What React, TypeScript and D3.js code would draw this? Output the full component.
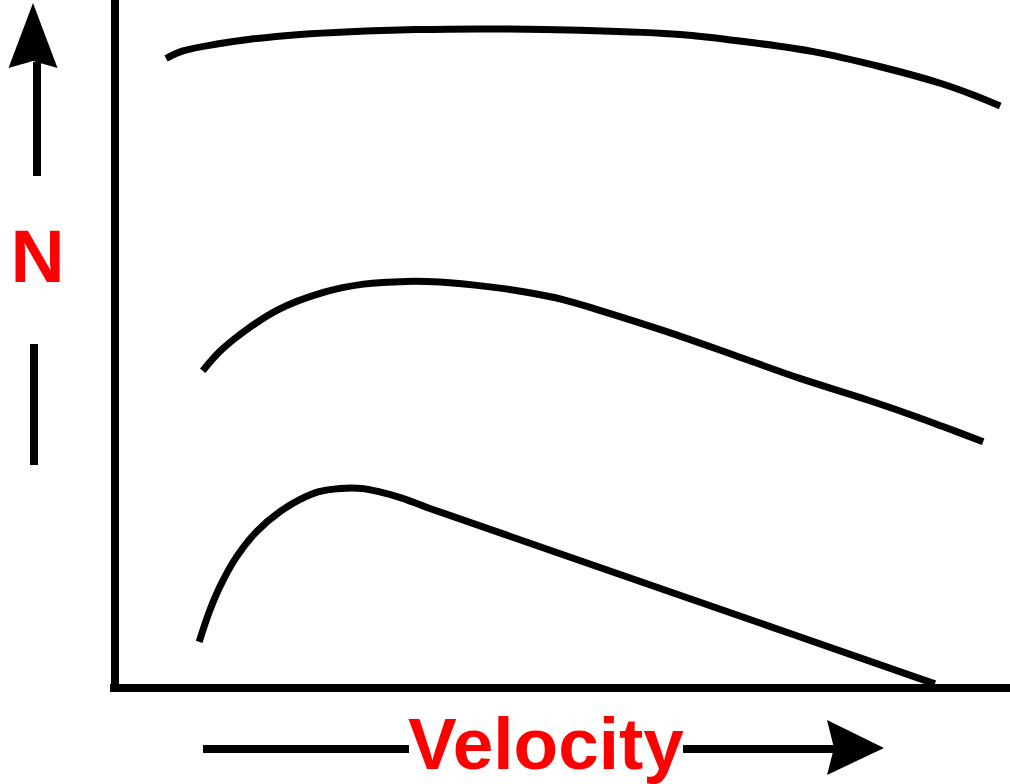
import React from "react";
import * as d3 from "d3";

const W = 1010;
const H = 784;

// Data (velocity on x, N on y), in arbitrary units 0..100
const topVelocity = [5.6, 7.5, 11.3, 15.0, 20.6, 26.2, 33.6, 41.1, 51.9, 63.1, 70.6, 78.0, 85.5, 92.2, 95.9, 98.9];
const topN = [91.5, 92.6, 93.6, 94.3, 95.0, 95.4, 95.7, 95.8, 95.6, 95.0, 93.9, 92.5, 90.3, 87.9, 86.2, 84.6];

const midVelocity = [9.7, 11.6, 14.1, 18.0, 23.2, 27.7, 32.5, 36.2, 41.8, 45.6, 49.9, 54.1, 61.6, 69.1, 76.5, 84.0, 89.6, 92.5, 97.0];
const midN = [46.1, 48.9, 51.6, 54.9, 57.5, 58.7, 59.1, 59.0, 58.3, 57.6, 56.5, 54.9, 51.8, 48.4, 45.0, 41.9, 39.4, 38.0, 35.8];

const lowVelocity = [9.3, 10.5, 11.8, 13.5, 15.7, 18.3, 20.6, 22.6, 25.1, 27.5, 29.5, 32.0, 35.1, 65.5, 91.6];
const lowN = [6.7, 11.3, 15.2, 19.1, 22.7, 25.6, 27.4, 28.5, 29.0, 29.0, 28.5, 27.6, 26.1, 12.4, 0.6];

const xLabel = "Velocity";
const yLabel = "N";

export default function App() {
  const x = d3.scaleLinear().domain([0, 100]).range([116, 1010]);
  const y = d3.scaleLinear().domain([0, 100]).range([688, 0]);

  const line = d3
    .line<[number, number]>()
    .x((d) => x(d[0]))
    .y((d) => y(d[1]))
    .curve(d3.curveCatmullRom.alpha(0.5));

  const series = [
    [topVelocity, topN],
    [midVelocity, midN],
    [lowVelocity, lowN],
  ].map(([vx, vy]) => vx.map((v, i) => [v, vy[i]] as [number, number]));

  const x0 = x(0) - 1;
  const y0 = y(0);

  return (
    <svg
      width={W}
      height={H}
      style={{ position: "absolute", left: 0, top: 0, background: "#fff" }}
      fontFamily="'Liberation Sans', Arial, sans-serif"
    >
      <rect width={W} height={H} fill="#fff" />
      {/* axes */}
      <line x1={x0} y1={0} x2={x0} y2={y0 + 4} stroke="#000" strokeWidth={8} />
      <line x1={x0 - 5} y1={y0} x2={W} y2={y0} stroke="#000" strokeWidth={8} />

      {/* curves */}
      {series.map((s, i) => (
        <path key={i} d={line(s) || ""} fill="none" stroke="#000" strokeWidth={7} strokeLinecap="butt" />
      ))}

      {/* y label with arrow */}
      <path d="M33,3 L57.5,68 L33,61 L8.5,68 Z" fill="#000" />
      <line x1={37} y1={62} x2={37} y2={176} stroke="#000" strokeWidth={8} />
      <text x={37.5} y={282} fontSize={75} fontWeight="bold" fill="#ff0000" textAnchor="middle">
        {yLabel}
      </text>
      <line x1={34} y1={344} x2={34} y2={465} stroke="#000" strokeWidth={8} />

      {/* x label with arrow */}
      <line x1={203} y1={749} x2={409} y2={749} stroke="#000" strokeWidth={8} />
      <text x={546} y={769} fontSize={73} fontWeight="bold" fill="#ff0000" textAnchor="middle">
        {xLabel}
      </text>
      <line x1={683} y1={749} x2={836} y2={749} stroke="#000" strokeWidth={8} />
      <path d="M884,748 L827,720 L834,748 L827,775 Z" fill="#000" />
    </svg>
  );
}
